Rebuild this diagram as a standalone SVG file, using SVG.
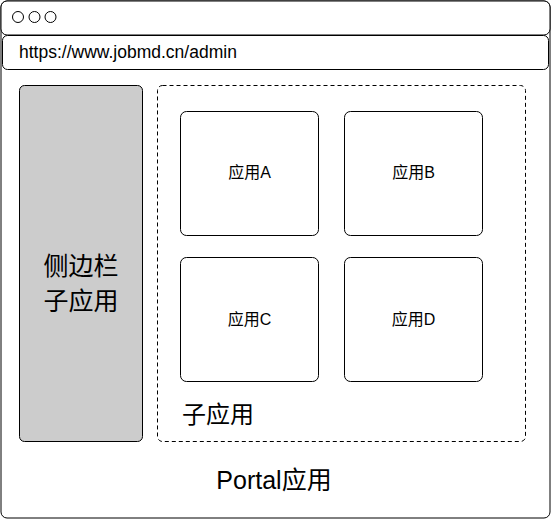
<svg xmlns="http://www.w3.org/2000/svg" width="551" height="520" viewBox="0 0 551 520">
<style>
.s{fill:#fff;stroke:#000;stroke-width:1}
.t{font-family:"Liberation Sans","Noto Sans CJK SC",sans-serif;fill:#000}
</style>
<rect width="551" height="520" fill="#fff"/>
<g id="browser">
<rect class="s" x="1" y="1" width="549" height="517" rx="6"/>
<rect class="s" x="1" y="1" width="549" height="34" rx="6"/>
<circle class="s" cx="18" cy="17" r="5.5"/>
<circle class="s" cx="34.5" cy="17" r="5.5"/>
<circle class="s" cx="50.5" cy="17" r="5.5"/>
</g>
<g id="url">
<rect class="s" x="2.5" y="35.5" width="546" height="34" rx="5"/>
<text class="t" x="19" y="58" font-size="17.5">https://www.jobmd.cn/admin</text>
</g>
<g id="sidebar">
<rect x="19.5" y="85.5" width="123" height="356" rx="5" fill="#ccc" stroke="#000"/>
<text class="t" x="81" y="275" font-size="25" text-anchor="middle">侧边栏</text>
<text class="t" x="81" y="310" font-size="25" text-anchor="middle">子应用</text>
</g>
<g id="subapps">
<rect x="157.5" y="85.5" width="368" height="356" rx="5" fill="none" stroke="#000" stroke-dasharray="4 3"/>
<text class="t" x="182" y="423" font-size="24">子应用</text>
</g>
<g id="appA">
<rect class="s" x="180.5" y="111.5" width="138" height="124" rx="6"/>
<text class="t" x="249.5" y="178" font-size="16" text-anchor="middle">应用A</text>
</g>
<g id="appB">
<rect class="s" x="344.5" y="111.5" width="138" height="124" rx="6"/>
<text class="t" x="413.5" y="178" font-size="16" text-anchor="middle">应用B</text>
</g>
<g id="appC">
<rect class="s" x="180.5" y="257.5" width="138" height="124" rx="6"/>
<text class="t" x="249.5" y="325" font-size="16" text-anchor="middle">应用C</text>
</g>
<g id="appD">
<rect class="s" x="344.5" y="257.5" width="138" height="124" rx="6"/>
<text class="t" x="413.5" y="325" font-size="16" text-anchor="middle">应用D</text>
</g>
<g id="portal">
<text class="t" x="274" y="489" font-size="25" text-anchor="middle">Portal应用</text>
</g>
<g id="connectors"/>
</svg>
